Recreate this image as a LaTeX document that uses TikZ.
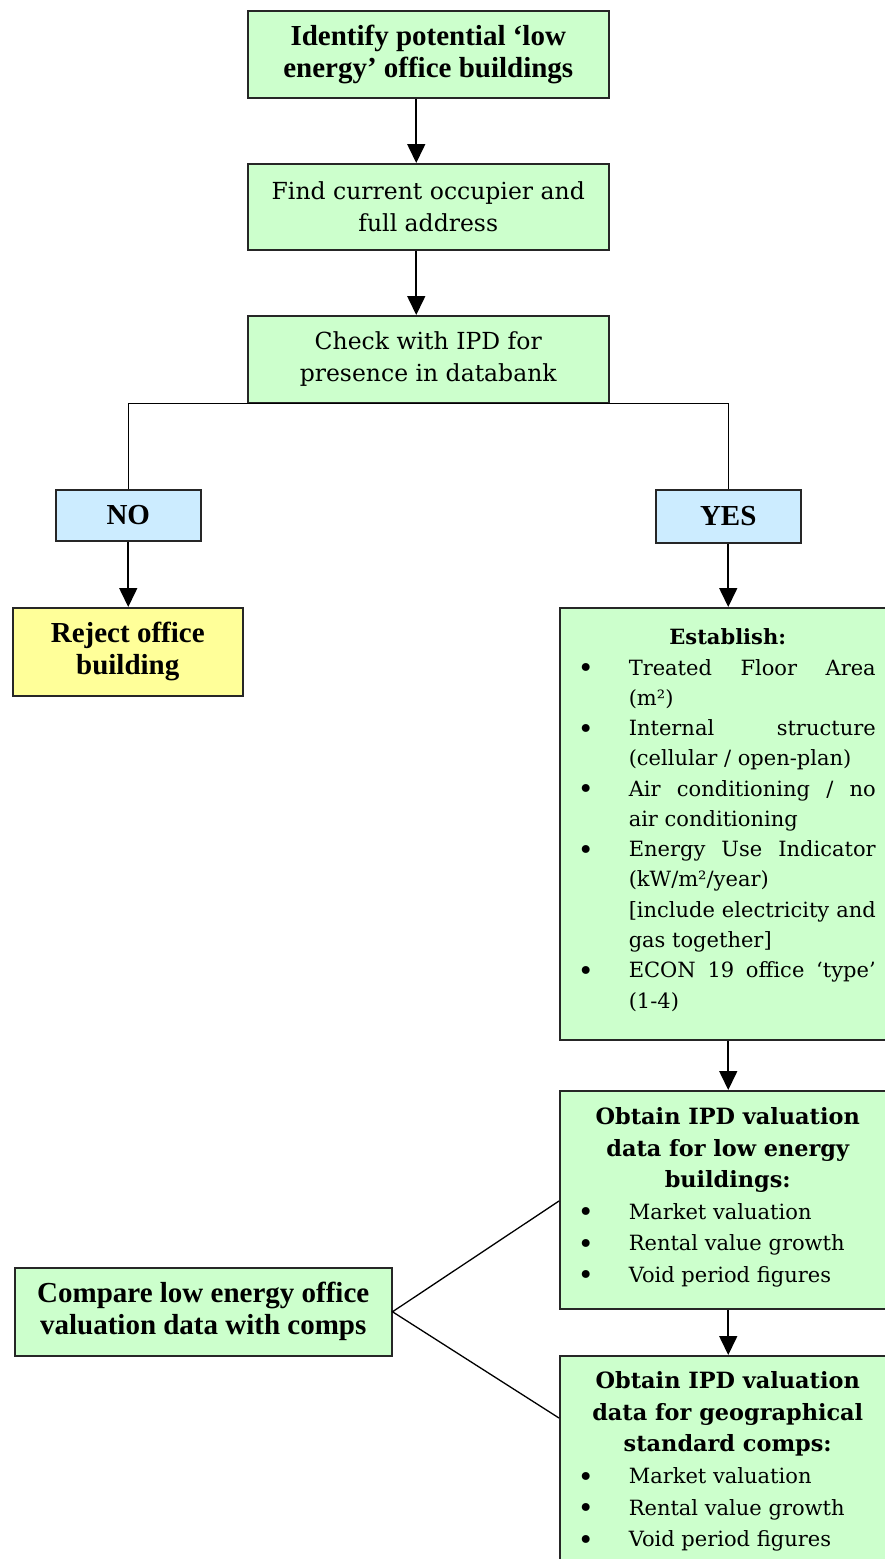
\documentclass[tikz,border=0pt]{standalone}
\usepackage{fontspec}
\setmainfont{Liberation Serif}
\newfontfamily\geo{DejaVu Serif}
\usetikzlibrary{arrows.meta}
\definecolor{boxgreen}{HTML}{CCFFCC}
\definecolor{boxblue}{HTML}{CCECFF}
\definecolor{boxyellow}{HTML}{FFFF99}
\newcommand\tfont{\bfseries\fontsize{29}{32}\selectfont}
\newcommand\gfont{\geo\fontsize{23.5}{32}\selectfont}
\newcommand\bigbul{\raisebox{-2.5pt}{\fontsize{27}{27}\selectfont\textbullet}}
\newcommand\bitem[1]{\hbox{\hspace*{26pt}\makebox[0pt]{\bigbul}\hspace*{43pt}#1}}
\newcommand\contl[1]{\hbox{\hspace*{69pt}#1}}
\newcommand\jl[1]{\hbox to 247pt{#1}}
\newcommand\headl[1]{\hbox to 336pt{\hss\bfseries\fontsize{22.4}{30}\selectfont #1\hss}}
\begin{document}
\begin{tikzpicture}[x=1pt,y=-1pt,
  box/.style={draw=black!85, line width=1.5pt, anchor=north west, inner sep=0pt, align=center},
  gbox/.style={box, fill=boxgreen},
  bbox/.style={box, fill=boxblue},
  ybox/.style={box, fill=boxyellow},
  arr/.style={line width=1.6pt, -{Triangle[width=18pt,length=19pt]}},
  conn/.style={line width=1.3pt}]
\useasboundingbox (0,0) rectangle (884,1559);

\node[gbox, minimum width=361pt, minimum height=87pt, font=\tfont] (idn) at (247,10) {Identify potential ‘low\\energy’ office buildings};
\node[gbox, minimum width=361pt, minimum height=86pt, font=\gfont] (find) at (247,163) {Find current occupier and\\full address};
\node[gbox, minimum width=361pt, minimum height=87pt, font=\gfont] (chk) at (247,315) {Check with IPD for\\presence in databank};

\node[bbox, minimum width=145pt, minimum height=51pt, font=\tfont] (no) at (55,489) {NO};
\node[bbox, minimum width=145pt, minimum height=53pt, font=\tfont] (yes) at (655,489) {YES};

\node[ybox, minimum width=230pt, minimum height=88pt, font=\tfont] (rej) at (12,607) {Reject office\\building};

\node[gbox] (est) at (559,607) {\parbox[c][432pt][t]{328pt}{\geo\fontsize{21}{30.27}\selectfont\lineskiplimit=-50pt\parindent=0pt
\hbox to 336pt{\hss\vrule height 37pt width 0pt\bfseries Establish:\hss}
\bitem{\jl{Treated\hfill Floor\hfill Area}}
\contl{(m²)}
\bitem{\jl{Internal\hfill structure}}
\contl{(cellular / open-plan)}
\bitem{\jl{Air\hfill conditioning\hfill /\hfill no}}
\contl{air conditioning}
\bitem{\jl{Energy\hfill Use\hfill Indicator}}
\contl{(kW/m²/year)}
\contl{\jl{[include\hfill electricity\hfill and}}
\contl{gas together]}
\bitem{\jl{ECON\hfill 19\hfill office\hfill ‘type’}}
\contl{(1-4)}
}};

\node[gbox] (ob1) at (559,1090) {\parbox[c][218pt][t]{328pt}{\geo\fontsize{21}{31.5}\selectfont\lineskiplimit=-50pt\parindent=0pt
\headl{\vrule height 34pt width 0pt Obtain IPD valuation}
\headl{data for low energy}
\headl{buildings:}
\bitem{Market valuation}
\bitem{Rental value growth}
\bitem{Void period figures}
}};

\node[gbox] (ob2) at (559,1355) {\parbox[c][230pt][t]{328pt}{\geo\fontsize{21}{31.6}\selectfont\lineskiplimit=-50pt\parindent=0pt
\headl{\vrule height 33pt width 0pt Obtain IPD valuation}
\headl{data for geographical}
\headl{standard comps:}
\bitem{Market valuation}
\bitem{Rental value growth}
\bitem{Void period figures}
}};

\node[gbox, minimum width=377pt, minimum height=88pt, font=\tfont] (cmp) at (14,1267) {Compare low energy office\\valuation data with comps};

% connectors
\draw[arr] ([xshift=-12pt]idn.south) -- ([xshift=-12pt]find.north);
\draw[arr] ([xshift=-12pt]find.south) -- ([xshift=-12pt]chk.north);
\draw[conn] (no.north) -- (no.north |- chk.south) -- (yes.north |- chk.south) -- (yes.north);
\draw[arr] (no.south) -- (no.south |- rej.north);
\draw[arr] (yes.south) -- (yes.south |- est.north);
\draw[arr] (yes.south |- est.south) -- (yes.south |- ob1.north);
\draw[arr] (yes.south |- ob1.south) -- (yes.south |- ob2.north);
\draw[conn] ([yshift=-111pt]ob1.north west) -- (cmp.east) -- ([yshift=-63pt]ob2.north west);
\end{tikzpicture}
\end{document}
